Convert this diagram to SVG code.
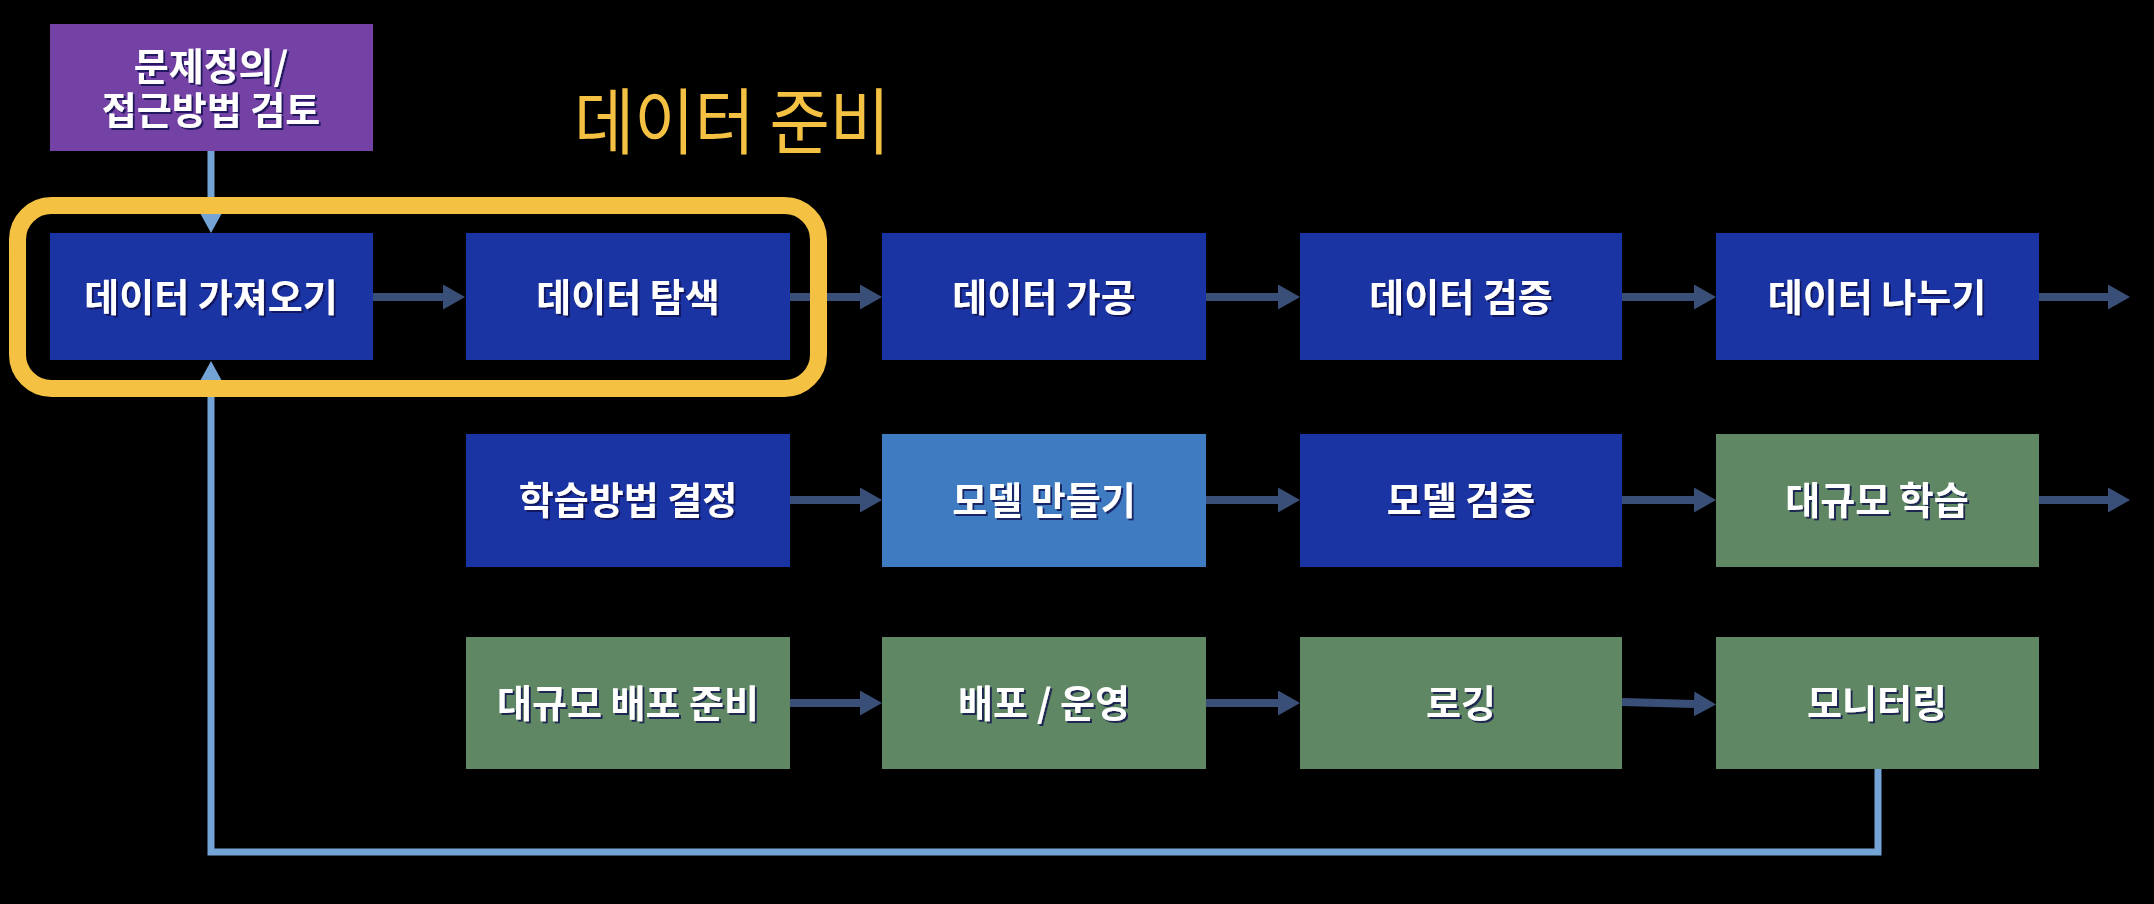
<svg xmlns="http://www.w3.org/2000/svg" width="2154" height="904" viewBox="0 0 2154 904">
<style>
.blue{fill:#1a34a3}
.lblue{fill:#3f7bc1}
.green{fill:#608764}
.purple{fill:#7442a4}
.lbl{font-family:"Noto Sans CJK KR","Noto Sans",sans-serif;font-weight:700;font-size:38px;fill:#ffffff;text-anchor:middle;filter:url(#sh)}
.flow{stroke:#3a4f78;stroke-width:8;fill:none}
.loop{stroke:#74a3d5;stroke-width:7;fill:none}
</style>
<defs>
<filter id="sh" x="-10%" y="-20%" width="120%" height="140%">
<feDropShadow dx="2" dy="2" stdDeviation="0.5" flood-color="#0a1050" flood-opacity="0.8"/>
</filter>
<marker id="ah" markerUnits="userSpaceOnUse" markerWidth="22" markerHeight="25" refX="0" refY="12.5" orient="auto">
<path d="M0,0 L22,12.5 L0,25 z" fill="#3a4f78"/>
</marker>
<marker id="lh" markerUnits="userSpaceOnUse" markerWidth="20" markerHeight="22" refX="0" refY="11" orient="auto">
<path d="M0,0 L20,11 L0,22 z" fill="#74a3d5"/>
</marker>
</defs>
<rect x="0" y="0" width="2154" height="904" fill="#000"/>

<g id="connectors">
<line class="loop" x1="211" y1="151" x2="211" y2="213" marker-end="url(#lh)"/>
<polyline class="loop" points="1878,767 1878,852 211,852 211,381" marker-end="url(#lh)"/>
<line class="flow" x1="373" y1="297" x2="443" y2="297" marker-end="url(#ah)"/>
<line class="flow" x1="790" y1="297" x2="860" y2="297" marker-end="url(#ah)"/>
<line class="flow" x1="1206" y1="297" x2="1278" y2="297" marker-end="url(#ah)"/>
<line class="flow" x1="1622" y1="297" x2="1694" y2="297" marker-end="url(#ah)"/>
<line class="flow" x1="2039" y1="297" x2="2108" y2="297" marker-end="url(#ah)"/>
<line class="flow" x1="790" y1="500" x2="860" y2="500" marker-end="url(#ah)"/>
<line class="flow" x1="1206" y1="500" x2="1278" y2="500" marker-end="url(#ah)"/>
<line class="flow" x1="1622" y1="500" x2="1694" y2="500" marker-end="url(#ah)"/>
<line class="flow" x1="2039" y1="500" x2="2108" y2="500" marker-end="url(#ah)"/>
<line class="flow" x1="790" y1="703" x2="860" y2="703" marker-end="url(#ah)"/>
<line class="flow" x1="1206" y1="703" x2="1278" y2="703" marker-end="url(#ah)"/>
<line class="flow" x1="1622" y1="702" x2="1694" y2="704" marker-end="url(#ah)"/>
</g>

<g id="n-problem"><rect class="purple" x="50" y="24" width="323" height="127"/>
<text class="lbl" x="211" y="80">문제정의/</text><text class="lbl" x="211" y="124">접근방법 검토</text></g>

<g id="n-get"><rect class="blue" x="50" y="233" width="323" height="127"/><text class="lbl" x="211" y="311">데이터 가져오기</text></g>
<g id="n-explore"><rect class="blue" x="466" y="233" width="324" height="127"/><text class="lbl" x="628" y="311">데이터 탐색</text></g>
<g id="n-process"><rect class="blue" x="882" y="233" width="324" height="127"/><text class="lbl" x="1044" y="311">데이터 가공</text></g>
<g id="n-validate"><rect class="blue" x="1300" y="233" width="322" height="127"/><text class="lbl" x="1461" y="311">데이터 검증</text></g>
<g id="n-split"><rect class="blue" x="1716" y="233" width="323" height="127"/><text class="lbl" x="1877" y="311">데이터 나누기</text></g>

<g id="n-method"><rect class="blue" x="466" y="434" width="324" height="133"/><text class="lbl" x="628" y="514">학습방법 결정</text></g>
<g id="n-build"><rect class="lblue" x="882" y="434" width="324" height="133"/><text class="lbl" x="1044" y="514">모델 만들기</text></g>
<g id="n-mval"><rect class="blue" x="1300" y="434" width="322" height="133"/><text class="lbl" x="1461" y="514">모델 검증</text></g>
<g id="n-train"><rect class="green" x="1716" y="434" width="323" height="133"/><text class="lbl" x="1877" y="514">대규모 학습</text></g>

<g id="n-deployprep"><rect class="green" x="466" y="637" width="324" height="132"/><text class="lbl" x="628" y="717">대규모 배포 준비</text></g>
<g id="n-deploy"><rect class="green" x="882" y="637" width="324" height="132"/><text class="lbl" x="1044" y="717">배포 / 운영</text></g>
<g id="n-log"><rect class="green" x="1300" y="637" width="322" height="132"/><text class="lbl" x="1461" y="717">로깅</text></g>
<g id="n-monitor"><rect class="green" x="1716" y="637" width="323" height="132"/><text class="lbl" x="1877" y="717">모니터링</text></g>

<g id="highlight">
<rect x="17.5" y="205.5" width="801" height="183" rx="34" ry="34" fill="none" stroke="#f4c142" stroke-width="17"/>
<text x="574" y="148" font-family="'Noto Sans CJK KR','Noto Sans',sans-serif" font-size="72" font-weight="400" fill="#f4c142" textLength="316" lengthAdjust="spacingAndGlyphs">데이터 준비</text>
</g>
</svg>
